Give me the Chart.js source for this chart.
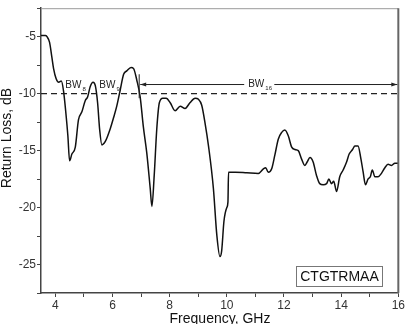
<!DOCTYPE html>
<html><head><meta charset="utf-8">
<script src="https://cdn.jsdelivr.net/npm/chart.js@4/dist/chart.umd.min.js"></script>
<style>html,body{margin:0;padding:0;background:#fff;}canvas{display:block;}</style>
</head><body>
<canvas id="c" width="406" height="324"></canvas>
<script>
const freq = [3.5,3.65,3.71,3.80,3.88,3.94,4.03,4.12,4.21,4.29,4.37,4.44,4.50,4.58,4.70,4.81,4.93,5.05,5.13,5.22,5.32,5.40,5.48,5.55,5.63,5.75,5.92,6.04,6.15,6.27,6.39,6.50,6.65,6.74,6.85,6.97,7.08,7.20,7.32,7.38,7.46,7.55,7.64,7.76,7.88,8.02,8.19,8.37,8.54,8.71,8.89,9.01,9.12,9.24,9.36,9.53,9.65,9.76,9.82,9.90,10.0,10.04,10.06,10.3,10.7,11.1,11.28,11.36,11.45,11.57,11.68,11.80,11.92,12.03,12.15,12.27,12.38,12.50,12.61,12.73,12.81,12.91,13.02,13.14,13.25,13.37,13.49,13.57,13.66,13.74,13.84,13.95,14.07,14.19,14.28,14.40,14.48,14.59,14.69,14.77,14.85,14.94,15.02,15.09,15.18,15.29,15.41,15.53,15.64,15.76,15.88,16.0];
const returnLoss = [-4.9,-4.9,-5.0,-5.5,-6.8,-7.8,-8.7,-9.0,-8.9,-9.8,-11.7,-13.7,-15.9,-15.3,-14.7,-12.3,-11.6,-10.6,-10.3,-9.4,-9.0,-9.3,-10.8,-13.1,-14.5,-14.2,-13.1,-12.1,-11.1,-9.7,-8.3,-8.0,-7.7,-7.8,-8.8,-10.3,-12.9,-15.2,-18.3,-19.9,-17.2,-13.1,-10.8,-10.4,-10.4,-10.8,-11.5,-11.1,-11.3,-10.8,-10.4,-10.5,-11.0,-12.6,-14.6,-18.3,-22.4,-24.3,-23.8,-21.2,-20.0,-19.5,-16.9,-16.9,-16.95,-17.0,-16.6,-16.5,-16.9,-16.6,-15.4,-14.0,-13.4,-13.2,-13.7,-14.7,-14.9,-15.0,-15.7,-16.3,-16.0,-15.6,-16.0,-17.2,-17.9,-18.0,-17.9,-17.5,-17.9,-17.7,-18.6,-17.3,-16.7,-16.0,-15.3,-14.9,-14.6,-14.6,-15.7,-16.9,-18.0,-17.5,-17.3,-16.7,-17.3,-17.3,-17.0,-16.5,-16.2,-16.3,-16.1,-16.1];
const refLevel = -10;
const xLabelValues = [4,6,8,10,12,14,16];
const yLabelValues = [-5,-10,-15,-20,-25];
const bwLabels = [{sub:'8', x:4.35}, {sub:'9', x:5.54}];
const bwWide = {sub:'16', from:6.97, to:16, y:-9.2, textX:11.1};
const legendText = 'CTGTRMAA';
const xTitle = 'Frequency, GHz';
const yTitle = 'Return Loss, dB';

const curve = freq.map((f,i)=>({x:f, y:returnLoss[i]}));

const overlay = {
  id:'overlay',
  afterDatasetsDraw(chart){
    const ctx = chart.ctx, xs = chart.scales.x, ys = chart.scales.y, a = chart.chartArea;
    ctx.save();
    // frame top & right
    ctx.strokeStyle = '#9a9a9a'; ctx.lineWidth = 1;
    ctx.beginPath(); ctx.moveTo(a.left, a.top+0.5); ctx.lineTo(a.right, a.top+0.5); ctx.stroke();
    ctx.strokeStyle = '#666'; ctx.lineWidth = 2;
    ctx.beginPath(); ctx.moveTo(a.right, a.top); ctx.lineTo(a.right, a.bottom); ctx.stroke();
    ctx.fillStyle = '#222'; ctx.strokeStyle = '#222';
    // BW labels
    bwLabels.forEach(b=>{
      const px = xs.getPixelForValue(b.x), py = ys.getPixelForValue(-9.3);
      ctx.font = '10px "Liberation Sans", Arial, sans-serif';
      ctx.textAlign='left'; ctx.textBaseline='middle';
      ctx.fillText('BW', px, py);
      const w = ctx.measureText('BW').width;
      ctx.font = '6px "Liberation Sans", Arial, sans-serif';
      ctx.fillText(b.sub, px+w+1, py+4);
    });
    // wide arrow
    const x0 = xs.getPixelForValue(bwWide.from), x1 = xs.getPixelForValue(bwWide.to);
    const yA = ys.getPixelForValue(bwWide.y), tx = xs.getPixelForValue(bwWide.textX);
    ctx.lineWidth = 1;
    ctx.beginPath(); ctx.moveTo(x0-1, ys.getPixelForValue(-8.3)); ctx.lineTo(x0-1, ys.getPixelForValue(-10.4)); ctx.stroke();
    ctx.font = '10px "Liberation Sans", Arial, sans-serif';
    const bw = ctx.measureText('BW').width;
    ctx.beginPath(); ctx.moveTo(x0, yA); ctx.lineTo(tx-bw/2-6, yA); ctx.stroke();
    ctx.beginPath(); ctx.moveTo(tx+bw/2+8, yA); ctx.lineTo(x1-1, yA); ctx.stroke();
    ctx.beginPath(); ctx.moveTo(x0, yA); ctx.lineTo(x0+6, yA-2); ctx.lineTo(x0+6, yA+2); ctx.closePath(); ctx.fill();
    ctx.beginPath(); ctx.moveTo(x1-1, yA); ctx.lineTo(x1-7, yA-2); ctx.lineTo(x1-7, yA+2); ctx.closePath(); ctx.fill();
    ctx.textAlign='center'; ctx.textBaseline='middle';
    ctx.fillText('BW', tx-2, yA);
    ctx.font = '6px "Liberation Sans", Arial, sans-serif';
    ctx.textAlign='left';
    ctx.fillText(bwWide.sub, tx+bw/2-1, yA+4);
    // legend box
    ctx.strokeStyle = '#777'; ctx.lineWidth = 1;
    ctx.strokeRect(296.5, 266.5, 86, 20);
    ctx.fillStyle = '#111';
    ctx.font = '14px "Liberation Sans", Arial, sans-serif';
    ctx.textAlign='center'; ctx.textBaseline='middle';
    ctx.fillText(legendText, 339.5, 277);
    // axis titles
    ctx.font = '14px "Liberation Sans", Arial, sans-serif';
    ctx.fillText(xTitle, 220, 319);
    ctx.translate(7, 138); ctx.rotate(-Math.PI/2);
    ctx.fillText(yTitle, 0, 0);
    ctx.restore();
  }
};

new Chart(document.getElementById('c'), {
  type:'line',
  data:{datasets:[
    {data:curve, borderColor:'#111', borderWidth:1.5, pointRadius:0, cubicInterpolationMode:'monotone', fill:false},
    {data:[{x:3.5,y:refLevel},{x:16,y:refLevel}], borderColor:'#222', borderWidth:1.3, borderDash:[6,4], pointRadius:0, fill:false}
  ]},
  options:{
    responsive:false, animation:false, devicePixelRatio:1,
    layout:{padding:{left:0,right:7,top:5,bottom:0}},
    plugins:{legend:{display:false}, tooltip:{enabled:false}},
    scales:{
      x:{type:'linear', min:3.5, max:16,
        afterBuildTicks(s){ const t=[]; for(let v=4; v<=16; v++) t.push({value:v}); s.ticks=t; },
        afterFit(s){ s.height=31; },
        grid:{drawOnChartArea:false, drawTicks:true, tickLength:4, color:'#444', lineWidth:1},
        border:{display:true, color:'#444', width:1.5},
        ticks:{color:'#333', padding:1, maxRotation:0, autoSkip:false, font:{family:'"Liberation Sans", Arial, sans-serif', size:12},
          callback:(v)=> xLabelValues.includes(v) ? String(v) : ''}
      },
      y:{type:'linear', min:-27.5, max:-2.5,
        afterBuildTicks(s){ const t=[]; for(let v=-27.5; v<=-2.5; v+=2.5) t.push({value:v}); s.ticks=t; },
        afterFit(s){ s.width=41; },
        grid:{drawOnChartArea:false, drawTicks:true, tickLength:4, color:'#444', lineWidth:1},
        border:{display:true, color:'#444', width:1.5},
        ticks:{color:'#333', padding:1, autoSkip:false, font:{family:'"Liberation Sans", Arial, sans-serif', size:12},
          callback:(v)=> yLabelValues.includes(v) ? String(v) : ''}
      }
    }
  },
  plugins:[overlay]
});
</script>
</body></html>
